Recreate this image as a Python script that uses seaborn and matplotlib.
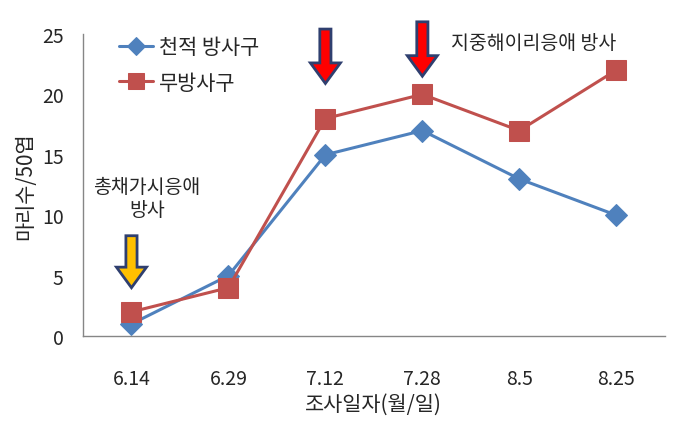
import matplotlib
matplotlib.use("Agg")
import matplotlib.pyplot as plt
import seaborn as sns
import pandas as pd
from matplotlib.patches import FancyArrow

dates = ["6.14", "6.29", "7.12", "7.28", "8.5", "8.25"]
released = [1, 5, 15, 17, 13, 10]
unreleased = [2, 4, 18, 20, 17, 22]
series_names = ["천적 방사구", "무방사구"]

sns.set_theme(style="white")
plt.rcParams['font.family'] = ['Noto Sans CJK KR', 'DejaVu Sans']

pos = list(range(len(dates)))
df = pd.DataFrame({
    "pos": pos * 2,
    "val": released + unreleased,
    "series": [series_names[0]] * len(dates) + [series_names[1]] * len(dates),
})

fig = plt.figure(figsize=(6.82, 4.31), dpi=100)
ax = fig.add_axes([0.1217, 0.218, 0.853, 0.701])

palette = {series_names[0]: "#4F81BD", series_names[1]: "#C0504D"}
markers = {series_names[0]: "D", series_names[1]: "s"}
sizes = {series_names[0]: 11, series_names[1]: 14}
for name in series_names:
    sub = df[df.series == name]
    sns.lineplot(data=sub, x="pos", y="val", ax=ax, color=palette[name],
                 marker=markers[name], markersize=sizes[name], linewidth=2.2,
                 markeredgecolor=palette[name], label=name, clip_on=False)

ax.set_xlim(-0.5, len(dates) - 0.5)
ax.set_ylim(0, 25)
ax.set_yticks([0, 5, 10, 15, 20, 25])
ax.set_xticks(pos)
ax.set_xticklabels(dates)
ax.tick_params(axis='both', labelsize=14, length=0)
ax.tick_params(axis='x', pad=23)
ax.tick_params(axis='y', pad=14)
ax.set_xlabel("조사일자(월/일)", fontsize=15, labelpad=3)
ax.set_ylabel("마리수/50엽", fontsize=15, labelpad=4)
for s in ["top", "right"]:
    ax.spines[s].set_visible(False)
for s in ["left", "bottom"]:
    ax.spines[s].set_color("#868686")
    ax.spines[s].set_linewidth(1)

leg = ax.legend(loc="upper left", bbox_to_anchor=(0.03, 1.055), frameon=False,
                fontsize=15, handlelength=1.6, labelspacing=0.65, handletextpad=0.3,
                markerscale=0.85)

# arrows
outline = "#2F3F6F"
def arrow(x, ytop, ytip, color):
    hl = 1.7
    a = FancyArrow(x, ytop, 0, -(ytop - ytip), width=0.115, head_width=0.31,
                   head_length=hl, length_includes_head=True, facecolor=color,
                   edgecolor=outline, linewidth=2, clip_on=False, zorder=5)
    ax.add_patch(a)

arrow(0, 8.3, 4.0, "#FFC000")
arrow(2, 25.4, 20.9, "#FF0000")
arrow(3, 26.0, 21.5, "#FF0000")

ax.text(0.16, 11.4, "총채가시응애\n방사", ha="center", va="center", fontsize=14,
        linespacing=1.1)
ax.text(4.15, 24.3, "지중해이리응애 방사", ha="center", va="center", fontsize=14)

fig.savefig("out.png", dpi=100)
